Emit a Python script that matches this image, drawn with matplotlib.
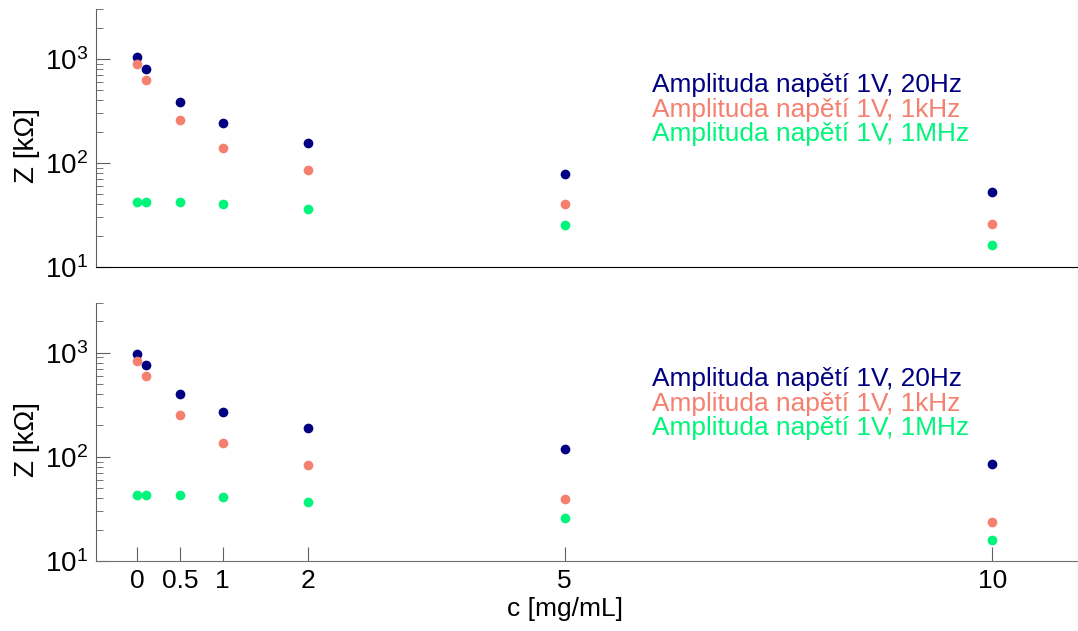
import numpy as np
import matplotlib
matplotlib.use('Agg')
import matplotlib.pyplot as plt
from matplotlib.ticker import FixedLocator, LogLocator, NullFormatter

plt.rcParams['font.family'] = ['Liberation Sans', 'DejaVu Sans']
plt.rcParams['mathtext.fontset'] = 'custom'
plt.rcParams['mathtext.rm'] = 'Liberation Sans'
plt.rcParams['mathtext.it'] = 'Liberation Sans:italic'

# concentration c [mg/mL]
conc = [0, 0.1, 0.5, 1, 2, 5, 10]
xticks = [0, 0.5, 1, 2, 5, 10]
xticklabels = ['0', '0.5', '1', '2', '5', '10']

# impedance Z [kOhm], top panel
top_20hz = [1050, 795, 384, 240, 157, 78, 52.6]
top_1khz = [895, 632, 259, 140, 86, 40.4, 26]
top_1mhz = [42.2, 42.2, 42, 40.4, 36, 25.4, 16.4]

# impedance Z [kOhm], bottom panel
bot_20hz = [980, 762, 403, 267, 191, 118.6, 85.7]
bot_1khz = [838, 601, 255, 135, 83, 39.5, 23.9]
bot_1mhz = [43.2, 43.2, 43, 41, 36.9, 25.9, 15.9]

labels = ['Amplituda napětí 1V, 20Hz', 'Amplituda napětí 1V, 1kHz', 'Amplituda napětí 1V, 1MHz']
colors = ['#000080', '#F58070', '#00F57A']

W, H = 1078, 631
fig = plt.figure(figsize=(W / 100, H / 100), dpi=100)
ax1 = fig.add_axes([96 / W, 1 - 267 / H, 1 - 96 / W, 257.6 / H])
ax2 = fig.add_axes([96 / W, 1 - 561 / H, 1 - 96 / W, 258 / H])

panels = [(ax1, [top_20hz, top_1khz, top_1mhz], 92),
          (ax2, [bot_20hz, bot_1khz, bot_1mhz], 386)]

for ax, series, base_y in panels:
    for vals, col in zip(series, colors):
        ax.plot(conc, vals, 'o', color=col, markersize=7, markeredgewidth=0, clip_on=False)
    ax.set_yscale('log')
    ax.set_ylim(10, 3000)
    ax.set_xlim(-0.48, 11.0)
    ax.spines['top'].set_visible(False)
    ax.spines['right'].set_visible(False)
    ax.spines['left'].set_color('#606060')
    ax.yaxis.set_major_locator(LogLocator(base=10, numticks=10))
    ax.yaxis.set_minor_locator(LogLocator(base=10, subs=np.arange(2, 10), numticks=10))
    ax.yaxis.set_minor_formatter(NullFormatter())
    ax.tick_params(axis='y', which='major', direction='in', length=10, color='#606060',
                   labelsize=20, pad=6)
    ax.tick_params(axis='y', which='minor', direction='in', length=5, color='#606060')
    ax.set_ylabel('Z [kΩ]', fontsize=20)
    ax.yaxis.set_label_coords(-0.057, 0.47)
    for k, (lab, col) in enumerate(zip(labels, colors)):
        fig.text(652 / W, 1 - (base_y + 24.5 * k) / H, lab, color=col, fontsize=18.9,
                 va='baseline', ha='left')

ax1.tick_params(axis='x', which='both', bottom=False, labelbottom=False)
ax1.spines['bottom'].set_color('black')

ax2.spines['bottom'].set_color('#707070')
ax2.xaxis.set_major_locator(FixedLocator(xticks))
ax2.set_xticklabels(xticklabels)
ax2.tick_params(axis='x', which='major', direction='in', length=10, color='#606060',
                labelsize=19, pad=6)
ax2.tick_params(axis='x', which='minor', bottom=False)
ax2.set_xlabel('c [mg/mL]', fontsize=19)
ax2.xaxis.set_label_coords(0.478, -0.14)

fig.savefig('out.png', dpi=100)
